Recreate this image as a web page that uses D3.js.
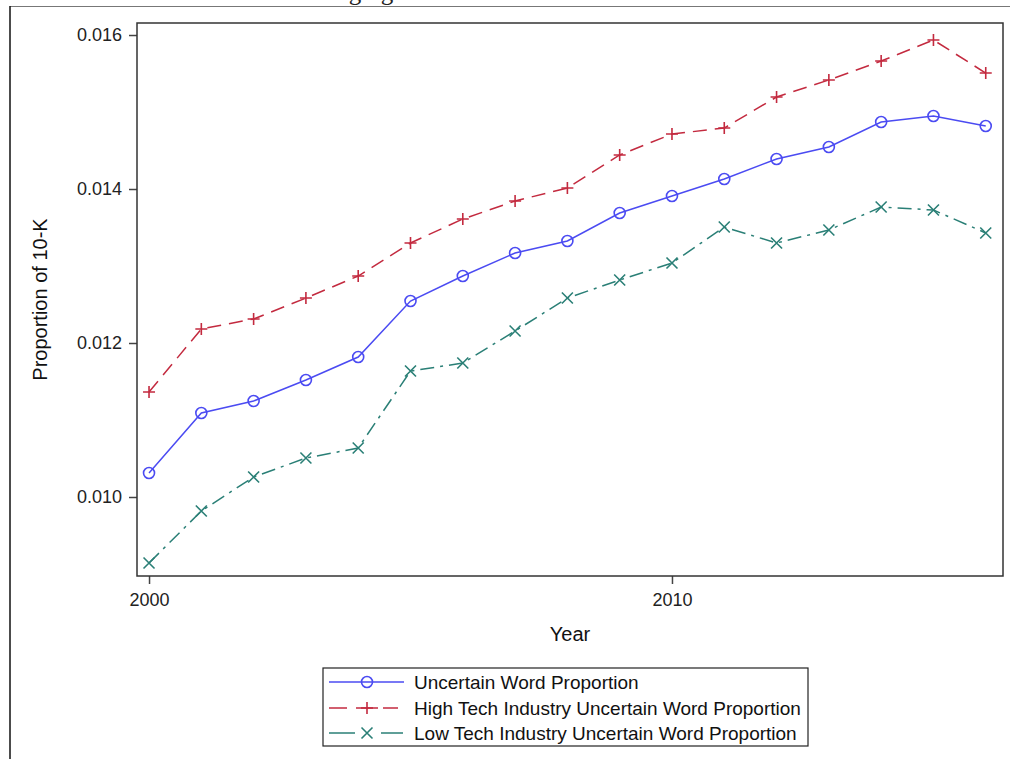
<!DOCTYPE html>
<html><head><meta charset="utf-8">
<script src="https://cdn.jsdelivr.net/npm/d3@7"></script>
<style>body{margin:0;background:#fff;}svg{display:block;font-family:"Liberation Sans",Arial,sans-serif;}</style>
</head><body>
<svg id="c" width="1010" height="759"></svg>
<script>
const years = [2000,2001,2002,2003,2004,2005,2006,2007,2008,2009,2010,2011,2012,2013,2014,2015,2016];
const uncertain = [0.010312,0.011091,0.011247,0.011519,0.011818,0.012545,0.012870,0.013169,0.013325,0.013688,0.013909,0.014130,0.014390,0.014545,0.014870,0.014948,0.014818];
const highTech = [0.011364,0.012182,0.012312,0.012584,0.012870,0.013299,0.013610,0.013844,0.014013,0.014442,0.014714,0.014792,0.015195,0.015416,0.015662,0.015935,0.015506];
const lowTech = [0.009143,0.009818,0.010260,0.010506,0.010636,0.011636,0.011740,0.012156,0.012584,0.012818,0.013039,0.013506,0.013299,0.013468,0.013766,0.013727,0.013429];
const seriesNames = ["Uncertain Word Proportion","High Tech Industry Uncertain Word Proportion","Low Tech Industry Uncertain Word Proportion"];
const xTicks = [2000,2010];
const yTicks = [0.010,0.012,0.014,0.016];

const svg = d3.select("#c");
const L=137,R=1003,T=23,B=576;
const x = d3.scaleLinear().domain([1999.77,2016.33]).range([L,R]);
const y = d3.scaleLinear().domain([0.008974,0.016156]).range([B,T]);

// outer partial frame
svg.append("line").attr("x1",10).attr("x2",1010).attr("y1",6.5).attr("y2",6.5).attr("stroke","#777").attr("stroke-width",1);
svg.append("line").attr("x1",10).attr("x2",10).attr("y1",6).attr("y2",759).attr("stroke","#111").attr("stroke-width",1.5);
svg.append("text").attr("x",296).attr("y",0).attr("font-family","Liberation Serif,serif").attr("font-size",25).attr("fill","#222").text("Changing");

const styles = [
  {data:uncertain,color:"#4b4bf2",dash:null,marker:"circle"},
  {data:highTech,color:"#c32a3f",dash:"14,8",marker:"plus"},
  {data:lowTech,color:"#2a7f76",dash:"14,6,3,6",marker:"x"}
];

// axes
const yAxis = d3.axisLeft(y).tickValues(yTicks).tickFormat(d3.format(".3f")).tickSize(8).tickPadding(7);
const gy = svg.append("g").attr("transform",`translate(${L},0)`).call(yAxis);
const xAxis = d3.axisBottom(x).tickValues(xTicks).tickFormat(d3.format("d")).tickSize(8).tickPadding(9);
const gx = svg.append("g").attr("transform",`translate(0,${B})`).call(xAxis);
[gx,gy].forEach(g=>{
  g.select(".domain").remove();
  g.selectAll("line").attr("stroke","#444").attr("stroke-width",1.5);
  g.selectAll("text").attr("font-size",18).attr("fill","#222").attr("font-family","Liberation Sans,Arial,sans-serif");
});

svg.append("text").attr("x",(L+R)/2).attr("y",641).attr("text-anchor","middle").attr("font-size",20).attr("fill","#111").text("Year");
svg.append("text").attr("transform",`translate(47,${(T+B)/2}) rotate(-90)`).attr("text-anchor","middle").attr("font-size",20).attr("fill","#111").text("Proportion of 10-K");

function marker(g,type,color){
  if(type==="circle") g.append("circle").attr("r",5.5).attr("fill","none").attr("stroke",color).attr("stroke-width",1.6);
  else if(type==="plus") g.append("path").attr("d","M-6,0H6M0,-6V6").attr("stroke",color).attr("stroke-width",1.6);
  else g.append("path").attr("d","M-5.5,-5.5L5.5,5.5M-5.5,5.5L5.5,-5.5").attr("stroke",color).attr("stroke-width",1.6);
}

const line = d3.line().x((d,i)=>x(years[i])).y(d=>y(d));
styles.forEach(s=>{
  svg.append("path").datum(s.data).attr("d",line).attr("fill","none").attr("stroke",s.color).attr("stroke-width",1.5).attr("stroke-dasharray",s.dash);
  s.data.forEach((v,i)=>{ const g=svg.append("g").attr("transform",`translate(${x(years[i])},${y(v)})`); marker(g,s.marker,s.color); });
});

// plot frame
svg.append("rect").attr("x",L).attr("y",T).attr("width",R-L).attr("height",B-T).attr("fill","none").attr("stroke","#333").attr("stroke-width",1.5);

// legend
const lg = svg.append("g");
lg.append("rect").attr("x",323).attr("y",668).attr("width",485).attr("height",78).attr("fill","none").attr("stroke","#222").attr("stroke-width",1.2);
const rows=[682,708,733];
const legSegs = [[[329,404]],[[329,347],[356,378],[383,398]],[[329,355],[381,403]]];
styles.forEach((s,i)=>{
  legSegs[i].forEach(sg=>{
    lg.append("line").attr("x1",sg[0]).attr("x2",sg[1]).attr("y1",rows[i]).attr("y2",rows[i]).attr("stroke",s.color).attr("stroke-width",1.5);
  });
  const g=lg.append("g").attr("transform",`translate(367,${rows[i]})`);
  marker(g,s.marker,s.color);
  lg.append("text").attr("x",414).attr("y",rows[i]+7).attr("font-size",19).attr("fill","#111").text(seriesNames[i]);
});
</script>
</body></html>
